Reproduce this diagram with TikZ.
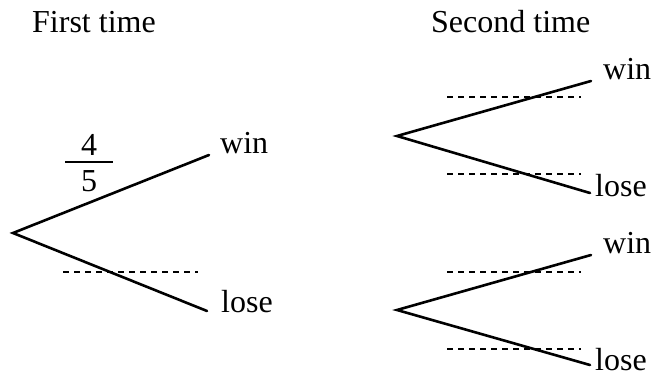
\documentclass[tikz,border=0pt]{standalone}
\usepackage{fontspec}
\setmainfont{Liberation Serif}
\begin{document}
\begin{tikzpicture}[x=1pt,y=-1pt,
  branch/.style={line width=2.6pt, line cap=round},
  guide/.style={line width=1.8pt, dash pattern=on 6pt off 5pt},
  lbl/.style={anchor=base west, inner sep=0pt, font=\fontsize{32}{36}\selectfont},
  num/.style={anchor=base, inner sep=0pt, font=\fontsize{32}{36}\selectfont}]
\useasboundingbox (0,0) rectangle (657,378);
% headers
\node[lbl] (h1) at (32,32) {First time};
\node[lbl] (h2) at (431,32) {Second time};
% first tree
\coordinate (r1) at (13,233);
\coordinate (w1) at (209,155);
\coordinate (l1) at (207,311);
\draw[branch] (w1) -- (r1) -- (l1);
\coordinate (d1a) at (63,272);
\coordinate (d1b) at (198,272);
\draw[guide] (d1a) -- (d1b);
\node[lbl] (tw1) at (220,153) {win};
\node[lbl] (tl1) at (221,312) {lose};
% fraction
\node[num] (n4) at (89,155) {4};
\node[num] (n5) at (89,191) {5};
\coordinate (fa) at (65,162);
\coordinate (fb) at (113,162);
\draw[line width=1.8pt] (fa) -- (fb);
% second tree, top
\coordinate (r2) at (397,136);
\coordinate (w2) at (591,81);
\coordinate (l2) at (590,193);
\draw[branch] (w2) -- (r2) -- (l2);
\coordinate (d2a) at (447,97);
\coordinate (d2b) at (581,97);
\draw[guide] (d2a) -- (d2b);
\coordinate (d3a) at (447,174);
\coordinate (d3b) at (581,174);
\draw[guide] (d3a) -- (d3b);
\node[lbl] (tw2) at (603,79) {win};
\node[lbl] (tl2) at (595,196) {lose};
% second tree, bottom
\coordinate (r3) at (397,310);
\coordinate (w3) at (591,255);
\coordinate (l3) at (590,365);
\draw[branch] (w3) -- (r3) -- (l3);
\coordinate (d4a) at (447,272);
\coordinate (d4b) at (581,272);
\draw[guide] (d4a) -- (d4b);
\coordinate (d5a) at (447,349);
\coordinate (d5b) at (581,349);
\draw[guide] (d5a) -- (d5b);
\node[lbl] (tw3) at (603,253) {win};
\node[lbl] (tl3) at (595,370) {lose};
\end{tikzpicture}
\end{document}
